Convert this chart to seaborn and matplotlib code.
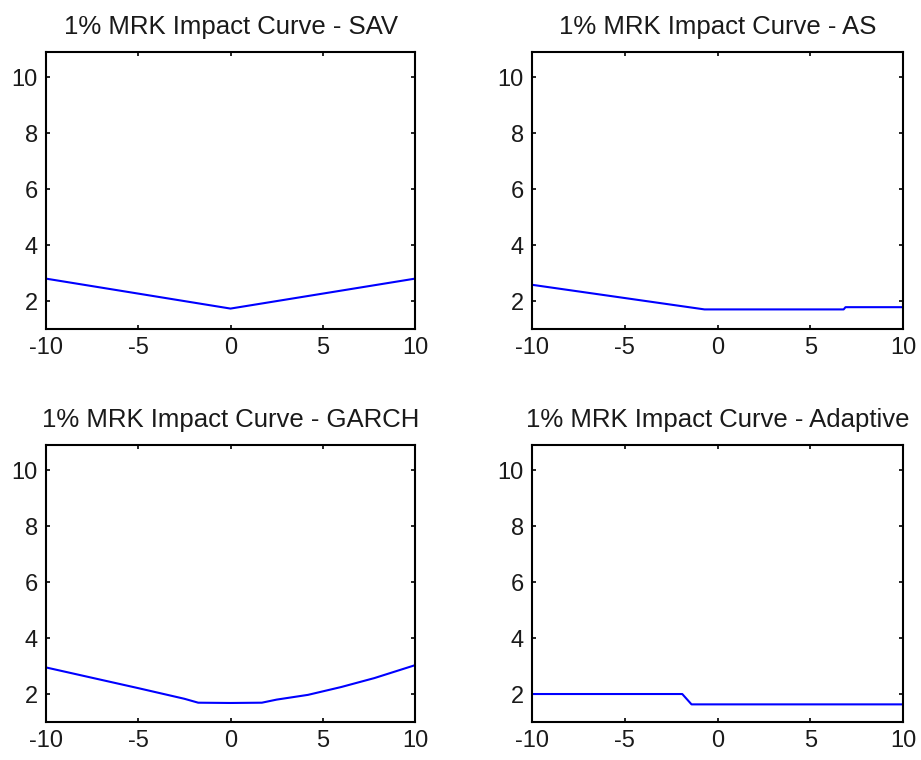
import matplotlib
matplotlib.use("Agg")
import matplotlib.pyplot as plt
import seaborn as sns
import pandas as pd

# ---- data ----
titles = ["1% MRK Impact Curve - SAV", "1% MRK Impact Curve - AS",
          "1% MRK Impact Curve - GARCH", "1% MRK Impact Curve - Adaptive"]

sav_x = [-10, 0, 10]
sav_y = [2.80, 1.73, 2.80]

as_x = [-10, -0.7, 6.8, 6.9, 10]
as_y = [2.58, 1.70, 1.70, 1.78, 1.78]

garch_x = [-10, -7.5, -5, -2.5, -1.75, 0, 1.7, 2.5, 4.2, 6.0, 7.8, 10]
garch_y = [2.95, 2.58, 2.21, 1.83, 1.69, 1.68, 1.69, 1.80, 1.97, 2.25, 2.57, 3.03]

adapt_x = [-10, -1.9, -1.4, 10]
adapt_y = [2.0, 2.0, 1.63, 1.63]

x_ticks = [-10, -5, 0, 5, 10]
y_ticks = [2, 4, 6, 8, 10]

series = [(sav_x, sav_y), (as_x, as_y), (garch_x, garch_y), (adapt_x, adapt_y)]

sns.set_style("white")
plt.rcParams['font.family'] = ['Liberation Sans', 'DejaVu Sans']

fig = plt.figure(figsize=(9.21, 7.6), dpi=100)
positions = [
    [46/921, 431/760, 369/921, 277/760],
    [532/921, 431/760, 371/921, 277/760],
    [46/921, 38/760, 369/921, 277/760],
    [532/921, 38/760, 371/921, 277/760],
]

for pos, title, (xs, ys) in zip(positions, titles, series):
    ax = fig.add_axes(pos)
    df = pd.DataFrame({"x": xs, "y": ys})
    sns.lineplot(data=df, x="x", y="y", ax=ax, color=(0, 0, 1), linewidth=1.5,
                 estimator=None, sort=False)
    ax.set_xlim(-10, 10)
    ax.set_ylim(1, 10.9)
    ax.set_xticks(x_ticks)
    ax.set_yticks(y_ticks)
    ax.set_xticklabels([str(t) for t in x_ticks])
    ax.set_yticklabels([str(t) for t in y_ticks])
    ax.set_xlabel("")
    ax.set_ylabel("")
    ax.set_title(title, fontsize=18.5, pad=13, color="#1a1a1a")
    for s in ax.spines.values():
        s.set_visible(True)
        s.set_color("black")
        s.set_linewidth(1.5)
    ax.tick_params(direction="in", length=3, width=1.2, colors="black",
                   labelcolor="#1a1a1a",
                   labelsize=17, top=True, right=True, bottom=True, left=True,
                   pad=6)

fig.savefig("out.png", dpi=100, facecolor="white")
